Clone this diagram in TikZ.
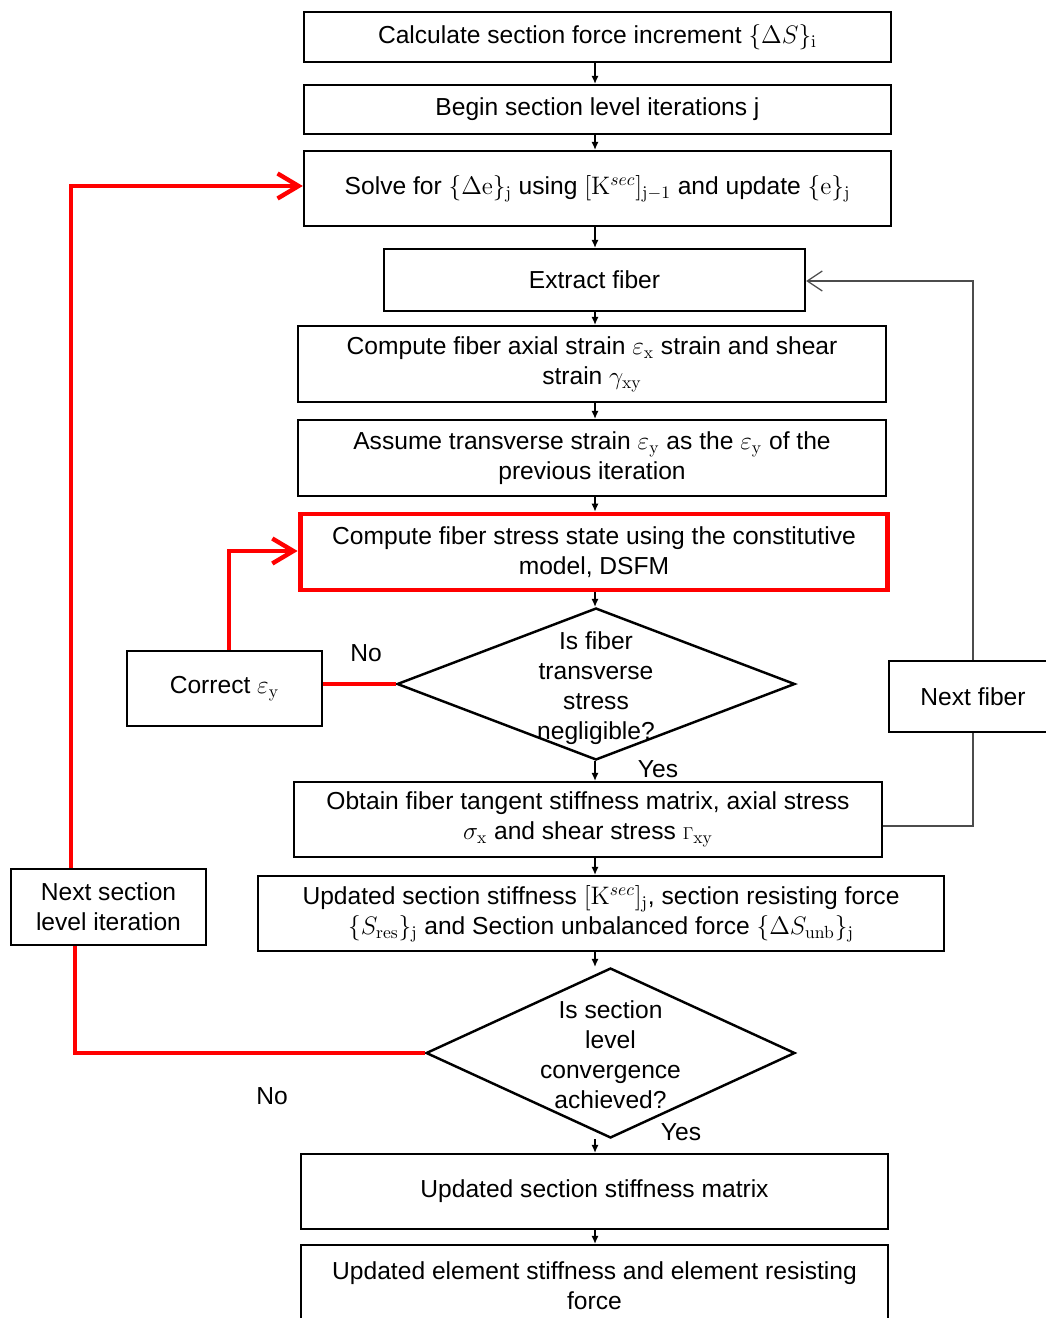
\documentclass[tikz,border=0pt]{standalone}
\usepackage[no-math]{fontspec}
\setmainfont{Liberation Sans}
\usetikzlibrary{arrows.meta,shapes.geometric}

\begin{document}
\begin{tikzpicture}[x=0.02cm,y=-0.02cm,
  every node/.style={font=\fontsize{14}{17}\selectfont},
  box/.style={draw,line width=1.4pt,align=center,inner sep=2pt},
  redbox/.style={box,draw=red,line width=2.8pt},
  decision/.style={draw,diamond,line width=1.4pt,inner sep=0pt},
  flow/.style={-{Latex[length=4.5pt,width=4pt]},line width=0.6pt},
  redline/.style={red,line width=2.5pt},
  redarrow/.style={redline,-{Straight Barb[length=0.42cm,width=0.5cm]}},
  fibline/.style={gray!60!black,line width=0.7pt},
  fibarrow/.style={fibline,-{Straight Barb[length=0.3cm,width=0.4cm]}}]
  \useasboundingbox (0,0) rectangle (1045,1318);
  % main column
  \node[box,minimum width=11.74cm,minimum height=1.0cm] (calc) at (597.5,37) {Calculate section force increment $\{\Delta S\}_{\mathrm{i}}$};
  \node[box,minimum width=11.74cm,minimum height=0.98cm] (begin) at (597.5,109.5) {Begin section level iterations j};
  \node[box,minimum width=11.74cm,minimum height=1.5cm] (solve) at (597.5,188.5) {Solve for $\{\Delta\mathrm{e}\}_{\mathrm{j}}$\ using $[\mathrm{K}^{sec}]_{\mathrm{j}-1}$ and update $\{\mathrm{e}\}_{\mathrm{j}}$};
  \node[box,minimum width=8.42cm,minimum height=1.24cm] (extract) at (594.5,280) {Extract fiber};
  \node[box,minimum width=11.76cm,minimum height=1.52cm] (axial) at (592,364) {Compute fiber axial strain $\varepsilon_{\mathrm{x}}$ strain and shear\\strain $\gamma_{\mathrm{xy}}$};
  \node[box,minimum width=11.76cm,minimum height=1.52cm] (assume) at (592,458) {Assume transverse strain $\varepsilon_{\mathrm{y}}$ as the $\varepsilon_{\mathrm{y}}$\ of the\\previous iteration};
  \node[redbox,minimum width=11.76cm,minimum height=1.52cm] (stress) at (594,552) {Compute fiber stress state using the constitutive\\model, DSFM};
  \node[decision,minimum width=7.96cm,minimum height=3.04cm] (dec1) at (596,684) {\smash{\raisebox{-6pt}{\begin{tabular}{@{}c@{}}Is fiber\\transverse\\stress\\negligible?\end{tabular}}}};
  \node[box,minimum width=11.76cm,minimum height=1.5cm] (obtain) at (588,819.5) {Obtain fiber tangent stiffness matrix, axial stress\\$\sigma_{\mathrm{x}}$ and shear stress $\mbox{\scalebox{0.68}{$\Gamma$}}_{\mathrm{xy}}$};
  \node[box,minimum width=13.72cm,minimum height=1.5cm] (updated) at (601,913.5) {Updated section stiffness $[\mathrm{K}^{sec}]_{\mathrm{j}}$, section resisting force\\$\{S_{\mathrm{res}}\}_{\mathrm{j}}$ and Section unbalanced force $\{\Delta S_{\mathrm{unb}}\}_{\mathrm{j}}$};
  \node[decision,minimum width=7.38cm,minimum height=3.4cm] (dec2) at (610.5,1053) {\smash{\raisebox{-6pt}{\begin{tabular}{@{}c@{}}Is section\\level\\convergence\\achieved?\end{tabular}}}};
  \node[box,minimum width=11.74cm,minimum height=1.5cm] (updstiff) at (594.5,1191.5) {Updated section stiffness matrix};
  \node[box,minimum width=11.74cm,minimum height=1.62cm] (element) at (594.5,1285.5) {Updated element stiffness and element resisting\\force};
  % side boxes
  \node[box,minimum width=3.9cm,minimum height=1.5cm] (correct) at (224.5,688.5) {Correct $\varepsilon_{\mathrm{y}}$};
  \node[box,minimum width=3.36cm,minimum height=1.42cm] (nextfib) at (973,696.5) {Next fiber};
  \node[box,minimum width=3.9cm,minimum height=1.52cm] (nextsec) at (108.5,907) {Next section\\level iteration};
  % answers
  \node (no1) at (366,653) {No};
  \node (yes1) at (658,769) {Yes};
  \node (no2) at (272,1096) {No};
  \node (yes2) at (681,1132) {Yes};
  % flow down the column
  \coordinate (spine) at (595,0);
  \foreach \a/\b in {calc/begin,begin/solve,solve/extract,extract/axial,axial/assume,assume/stress,stress/dec1,dec1/obtain,obtain/updated,updated/dec2,dec2/updstiff,updstiff/element}
    \draw[flow] (spine |- \a.south) -- (spine |- \b.north);
  % fiber loop
  \coordinate (fibtop) at (973,281);
  \draw[fibarrow] (nextfib.north) -- (fibtop) -- (extract.east |- fibtop);
  \draw[fibline] (obtain.east |- 0,826) -- (nextfib.south |- 0,826) -- (nextfib.south);
  % red loops
  \draw[redline] (dec1.west) -- (dec1.west -| correct.east);
  \coordinate (corrtop) at (229,551);
  \draw[redarrow] (corrtop |- correct.north) -- (corrtop) -- (stress.west |- corrtop);
  \coordinate (secbot) at (75,1053);
  \draw[redline] (dec2.west) -- (secbot) -- (secbot |- nextsec.south);
  \coordinate (sectop) at (71,186);
  \draw[redarrow] (sectop |- nextsec.north) -- (sectop) -- (solve.west |- sectop);
\end{tikzpicture}
\end{document}
